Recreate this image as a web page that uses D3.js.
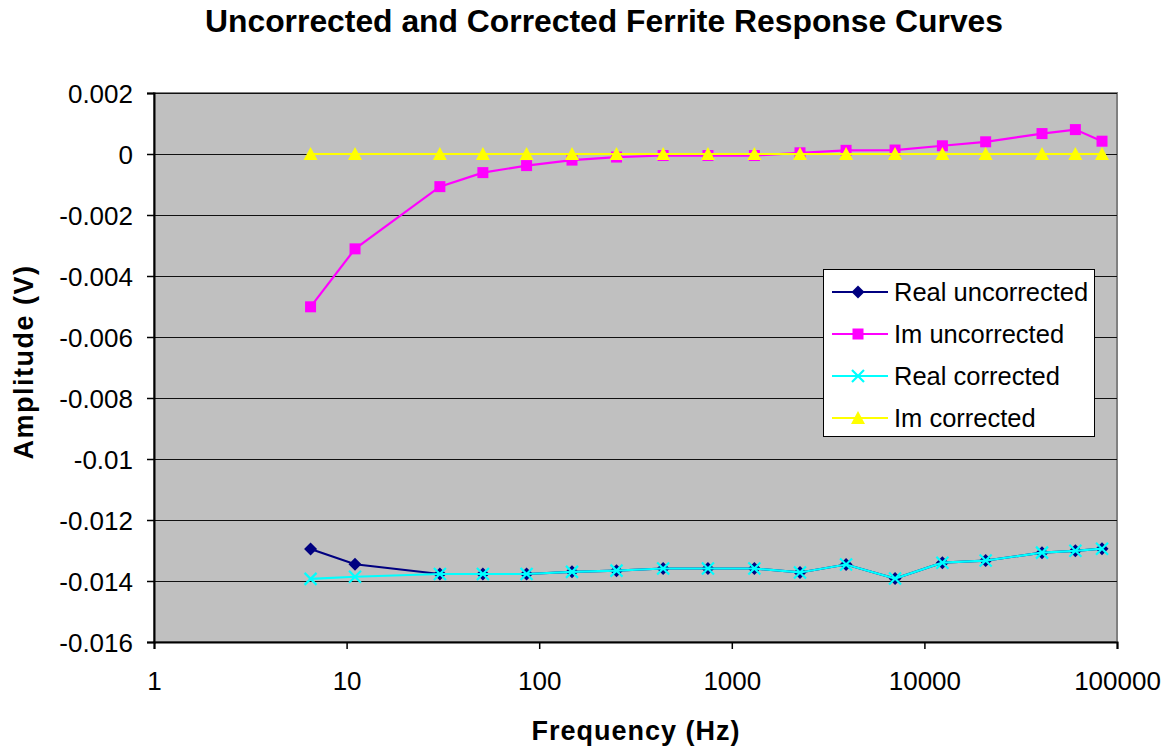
<!DOCTYPE html>
<html><head><meta charset="utf-8">
<script src="https://cdn.jsdelivr.net/npm/d3@7"></script>
<style>body{margin:0;background:#fff}svg{font-family:"Liberation Sans",Arial,sans-serif}</style>
</head><body><svg id="c" width="1170" height="749"></svg>
<script>
const freqs = [6.5, 11.06, 30.5, 51, 86, 148, 252, 440, 752, 1310, 2260, 3920, 7040, 12400, 20800, 40800, 60800, 83600];
const realUncorrected = [-0.01295, -0.01345, -0.01377, -0.01377, -0.01377, -0.0137, -0.01366, -0.01359, -0.01359, -0.01359, -0.01372, -0.01346, -0.01392, -0.0134, -0.01333, -0.01307, -0.01301, -0.01294];
const imUncorrected = [-0.00501, -0.00311, -0.00107, -0.00061, -0.00038, -0.0002, -0.0001, -0.00005, -0.00005, -0.00005, 0.00004, 0.00012, 0.00013, 0.00027, 0.00040, 0.00067, 0.00080, 0.00042];
const realCorrected = [-0.01393, -0.01386, -0.01377, -0.01377, -0.01377, -0.0137, -0.01366, -0.01359, -0.01359, -0.01359, -0.01372, -0.01346, -0.01392, -0.0134, -0.01333, -0.01307, -0.01301, -0.01294];
const imCorrected = [0, 0, 0, 0, 0, 0, 0, 0, 0, 0, 0, 0, 0, 0, 0, 0, 0, 0];
const seriesNames = ["Real uncorrected", "Im uncorrected", "Real corrected", "Im corrected"];
const xTicks = [1, 10, 100, 1000, 10000, 100000];
const yTicks = [0.002, 0, -0.002, -0.004, -0.006, -0.008, -0.01, -0.012, -0.014, -0.016];

const svg = d3.select("#c");
const L = 154, R = 1117, T = 93, B = 642;
const x = d3.scaleLog().domain([1, 100000]).range([L, R]);
const y = d3.scaleLinear().domain([-0.016, 0.002]).range([B, T]);

svg.append("text").attr("x", 604).attr("y", 32).attr("text-anchor", "middle")
  .attr("font-size", 31).attr("font-weight", "bold")
  .attr("textLength", 798).attr("lengthAdjust", "spacingAndGlyphs")
  .text("Uncorrected and Corrected Ferrite Response Curves");

svg.append("rect").attr("x", L).attr("y", T).attr("width", R - L).attr("height", B - T)
  .attr("fill", "#c0c0c0").attr("stroke", "#808080").attr("stroke-width", 2);

// gridlines
svg.append("g").selectAll("line").data(yTicks).join("line")
  .attr("x1", L).attr("x2", R).attr("y1", d => Math.round(y(d)) + 0.5).attr("y2", d => Math.round(y(d)) + 0.5)
  .attr("stroke", "#111").attr("stroke-width", 1.2);

const fmtY = d => String(+d.toFixed(3));
// axes
const yAxis = svg.append("g").attr("transform", `translate(${L},0)`)
  .call(d3.axisLeft(y).tickValues(yTicks).tickSize(7).tickPadding(14).tickFormat(fmtY));
const xAxis = svg.append("g").attr("transform", `translate(0,${B})`)
  .call(d3.axisBottom(x).tickValues(xTicks).tickSize(7).tickPadding(23).tickFormat(d3.format("d")));
[yAxis, xAxis].forEach(a => {
  a.select(".domain").attr("stroke", "#000").attr("stroke-width", 2);
  a.selectAll(".tick line").attr("stroke", "#000").attr("stroke-width", 1.5);
  a.selectAll("text").attr("font-size", 26).attr("fill", "#000").attr("font-family", "Liberation Sans, Arial, sans-serif");
});
yAxis.selectAll("text").attr("dy", "0.36em");

svg.append("text").attr("transform", "translate(33,362) rotate(-90)").attr("text-anchor", "middle")
  .attr("font-size", 27).attr("font-weight", "bold").attr("letter-spacing", 1.5).text("Amplitude (V)");
svg.append("text").attr("x", 636).attr("y", 740).attr("text-anchor", "middle")
  .attr("font-size", 27).attr("font-weight", "bold").attr("letter-spacing", 1).text("Frequency (Hz)");

const series = [
  {name: seriesNames[0], vals: realUncorrected, color: "#000080", marker: "diamond"},
  {name: seriesNames[1], vals: imUncorrected, color: "#ff00ff", marker: "square"},
  {name: seriesNames[2], vals: realCorrected, color: "#00ffff", marker: "cross"},
  {name: seriesNames[3], vals: imCorrected, color: "#ffff00", marker: "triangle"}
];

function drawMarker(g, type, color) {
  if (type === "diamond") g.append("path").attr("d", "M0,-6.5L6.5,0L0,6.5L-6.5,0Z").attr("fill", color);
  else if (type === "square") g.append("rect").attr("x", -5.5).attr("y", -5.5).attr("width", 11).attr("height", 11).attr("fill", color);
  else if (type === "triangle") g.append("path").attr("d", "M0,-7L7,6L-7,6Z").attr("fill", color);
  else if (type === "cross") g.append("path").attr("d", "M-6,-6L6,6M-6,6L6,-6").attr("stroke", color).attr("stroke-width", 2.2).attr("fill", "none");
}

const line = d3.line().x(d => x(d[0])).y(d => y(d[1]));
const plot = svg.append("g");
series.forEach(s => {
  const pts = freqs.map((f, i) => [f, s.vals[i]]);
  plot.append("path").datum(pts).attr("d", line).attr("fill", "none").attr("stroke", s.color).attr("stroke-width", 2.2);
  pts.forEach(p => {
    const g = plot.append("g").attr("transform", `translate(${x(p[0])},${y(p[1])})`);
    drawMarker(g, s.marker, s.color);
  });
});

// legend
const lg = svg.append("g");
lg.append("rect").attr("x", 823.5).attr("y", 269.5).attr("width", 271).attr("height", 167)
  .attr("fill", "#fff").attr("stroke", "#000").attr("stroke-width", 1);
const rows = [292, 334, 376, 418];
series.forEach((s, i) => {
  lg.append("line").attr("x1", 832).attr("x2", 888).attr("y1", rows[i]).attr("y2", rows[i]).attr("stroke", s.color).attr("stroke-width", 2);
  const g = lg.append("g").attr("transform", `translate(858,${rows[i]})`);
  drawMarker(g, s.marker, s.color);
  lg.append("text").attr("x", 894).attr("y", rows[i]).attr("dy", "0.36em").attr("font-size", 25.5).text(s.name);
});
</script></body></html>
